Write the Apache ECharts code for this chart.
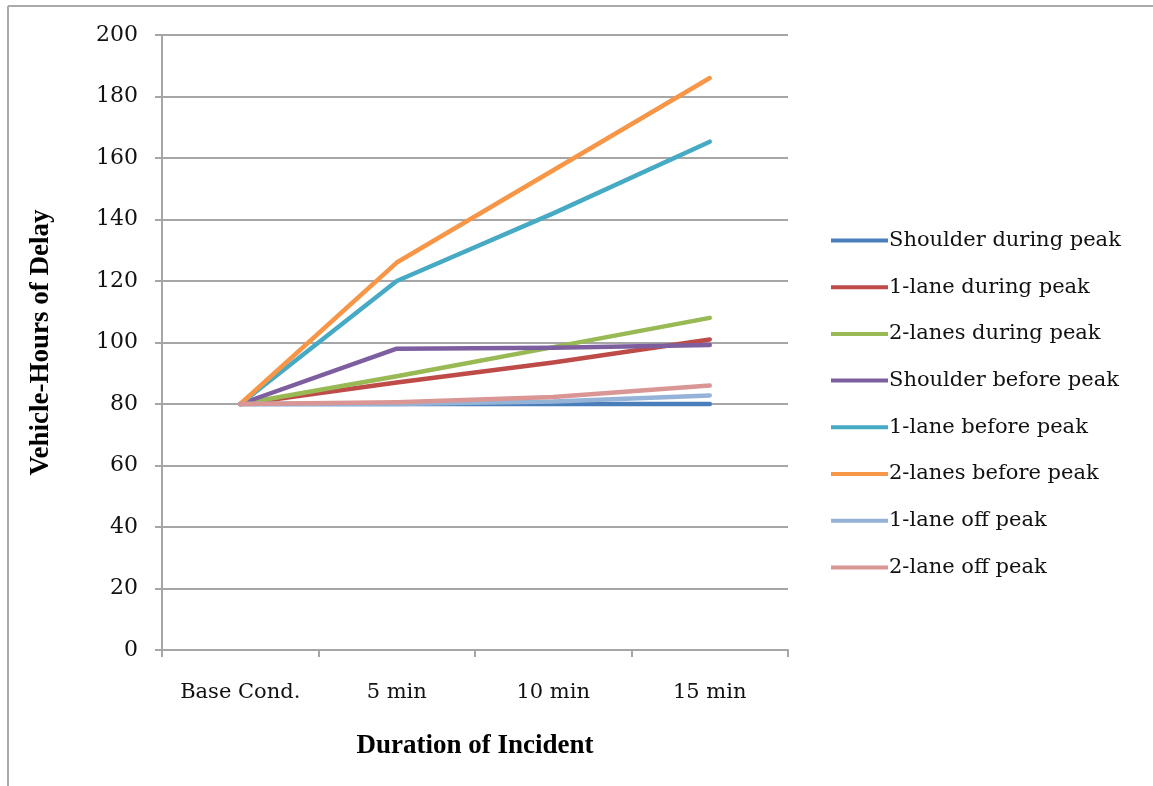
<!DOCTYPE html>
<html>
<head>
<meta charset="utf-8">
<script src="https://cdn.jsdelivr.net/npm/echarts@6/dist/echarts.min.js"></script>
<style>html,body{margin:0;padding:0;background:#fff}#c{width:1153px;height:786px}</style>
</head>
<body>
<div id="c"></div>
<script>
const categories = ['Base Cond.', '5 min', '10 min', '15 min'];
const seriesNames = ['Shoulder during peak','1-lane during peak','2-lanes during peak','Shoulder before peak','1-lane before peak','2-lanes before peak','1-lane off peak','2-lane off peak'];
const shoulderDuringPeak = [80, 80, 80, 80];
const oneLaneDuringPeak = [80, 87, 93.5, 101];
const twoLanesDuringPeak = [80, 89, 98.5, 108];
const shoulderBeforePeak = [80, 98, 98.3, 99.2];
const oneLaneBeforePeak = [80, 120, 142, 165.3];
const twoLanesBeforePeak = [80, 126, 156, 186];
const oneLaneOffPeak = [80, 80, 80.8, 82.8];
const twoLaneOffPeak = [80, 80.6, 82.3, 86];
const colors = ['#4a7ebb','#be4b48','#98b954','#7d5fa0','#46aac5','#f79646','#95b3d7','#d99694'];
const yTicks = { min: 0, max: 200, interval: 20 };

const allData = [shoulderDuringPeak, oneLaneDuringPeak, twoLanesDuringPeak, shoulderBeforePeak, oneLaneBeforePeak, twoLanesBeforePeak, oneLaneOffPeak, twoLaneOffPeak];
const serif = '"DejaVu Serif", serif';

const chart = echarts.init(document.getElementById('c'));
chart.setOption({
  animation: false,
  backgroundColor: '#fff',
  color: colors,
  grid: { left: 162, right: 365, top: 35, bottom: 136, containLabel: false },
  legend: {
    orient: 'vertical', left: 826, top: 225, itemGap: 25.7,
    itemWidth: 57, itemHeight: 4,
    icon: 'rect',
    textStyle: { fontFamily: serif, fontSize: 21, color: '#111', padding: [0,0,0,-4] },
    data: seriesNames
  },
  xAxis: {
    type: 'category', data: categories, boundaryGap: true,
    axisLine: { lineStyle: { color: '#a6a6a6', width: 2 } },
    axisTick: { show: true, length: 7, lineStyle: { color: '#a6a6a6', width: 2 } },
    axisLabel: { fontFamily: serif, fontSize: 21, color: '#111', margin: 32 },
    name: 'Duration of Incident', nameLocation: 'middle', nameGap: 83,
    nameTextStyle: { fontFamily: '"Liberation Serif", serif', fontWeight: 'bold', fontSize: 27, color: '#000' }
  },
  yAxis: {
    type: 'value', min: yTicks.min, max: yTicks.max, interval: yTicks.interval,
    axisLine: { show: true, lineStyle: { color: '#a6a6a6', width: 2 } },
    axisTick: { show: true, length: 7, lineStyle: { color: '#a6a6a6', width: 2 } },
    splitLine: { lineStyle: { color: '#a6a6a6', width: 2 } },
    axisLabel: { fontFamily: serif, fontSize: 22, color: '#111', margin: 24 },
    name: 'Vehicle-Hours of Delay', nameLocation: 'middle', nameGap: 107,
    nameTextStyle: { fontFamily: '"Liberation Serif", serif', fontWeight: 'bold', fontSize: 27, color: '#000' }
  },
  graphic: [
    { type: 'line', shape: { x1: 8, y1: 6, x2: 1153, y2: 6 }, style: { stroke: '#aaa', lineWidth: 2 } },
    { type: 'line', shape: { x1: 8, y1: 6, x2: 8, y2: 786 }, style: { stroke: '#aaa', lineWidth: 2 } }
  ],
  series: seriesNames.map((n, i) => ({
    name: n, type: 'line', data: allData[i],
    symbol: 'none', lineStyle: { width: 4.5, cap: 'round', join: 'round' },
    z: 2 + i
  }))
});
</script>
</body>
</html>
